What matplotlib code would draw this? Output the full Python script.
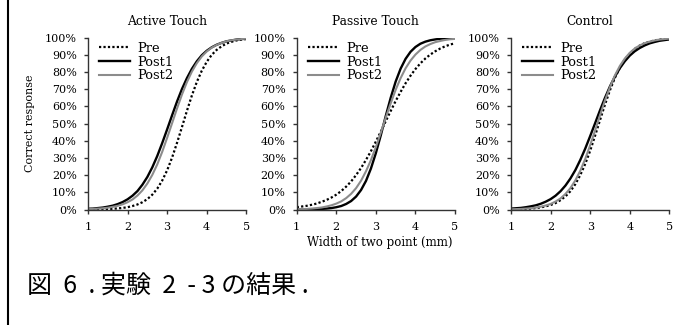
import matplotlib

matplotlib.use("Agg")
import matplotlib.pyplot as plt
from matplotlib.lines import Line2D
from matplotlib.ticker import PercentFormatter

# width of two points (mm), sampled every 0.125 mm
width_mm = [1.0, 1.125, 1.25, 1.375, 1.5, 1.625, 1.75, 1.875, 2.0, 2.125, 2.25, 2.375, 2.5, 2.625, 2.75, 2.875,
            3.0, 3.125, 3.25, 3.375, 3.5, 3.625, 3.75, 3.875, 4.0, 4.125, 4.25, 4.375, 4.5, 4.625, 4.75, 4.875, 5.0]

# correct response rate
active_pre = [0.001, 0.001, 0.001, 0.002, 0.003, 0.005, 0.007, 0.010, 0.014, 0.021, 0.030, 0.043, 0.061, 0.087, 0.122, 0.169,
              0.229, 0.303, 0.389, 0.481, 0.575, 0.664, 0.743, 0.808, 0.860, 0.900, 0.929, 0.950, 0.966, 0.976, 0.984, 0.989, 0.992]
active_post1 = [0.005, 0.006, 0.009, 0.012, 0.017, 0.023, 0.032, 0.044, 0.060, 0.081, 0.108, 0.145, 0.190, 0.246, 0.312, 0.387,
                0.467, 0.549, 0.629, 0.702, 0.765, 0.819, 0.863, 0.898, 0.924, 0.944, 0.959, 0.970, 0.979, 0.984, 0.989, 0.992, 0.994]
active_post2 = [0.003, 0.004, 0.006, 0.008, 0.011, 0.016, 0.022, 0.031, 0.043, 0.059, 0.082, 0.112, 0.152, 0.202, 0.263, 0.336,
                0.418, 0.503, 0.589, 0.670, 0.742, 0.803, 0.852, 0.891, 0.920, 0.942, 0.958, 0.970, 0.979, 0.985, 0.989, 0.992, 0.995]

passive_pre = [0.014, 0.018, 0.022, 0.028, 0.035, 0.045, 0.056, 0.070, 0.087, 0.108, 0.134, 0.164, 0.201, 0.242, 0.289, 0.340,
               0.396, 0.454, 0.515, 0.574, 0.632, 0.685, 0.735, 0.779, 0.818, 0.851, 0.879, 0.902, 0.921, 0.937, 0.950, 0.960, 0.968]
passive_post1 = [0.000, 0.001, 0.001, 0.002, 0.002, 0.004, 0.006, 0.009, 0.014, 0.021, 0.033, 0.050, 0.076, 0.114, 0.167, 0.239,
                 0.329, 0.433, 0.545, 0.651, 0.745, 0.820, 0.877, 0.918, 0.946, 0.965, 0.977, 0.985, 0.990, 0.994, 0.996, 0.997, 0.998]
passive_post2 = [0.002, 0.003, 0.004, 0.006, 0.009, 0.012, 0.018, 0.025, 0.035, 0.048, 0.067, 0.092, 0.125, 0.168, 0.223, 0.288,
                 0.364, 0.448, 0.535, 0.619, 0.697, 0.765, 0.822, 0.867, 0.902, 0.929, 0.949, 0.963, 0.974, 0.981, 0.987, 0.991, 0.993]

control_pre = [0.002, 0.002, 0.003, 0.004, 0.006, 0.009, 0.013, 0.019, 0.027, 0.038, 0.055, 0.077, 0.107, 0.148, 0.201, 0.266,
               0.343, 0.431, 0.522, 0.612, 0.695, 0.767, 0.826, 0.873, 0.908, 0.935, 0.954, 0.968, 0.977, 0.984, 0.989, 0.992, 0.995]
control_post1 = [0.006, 0.008, 0.010, 0.014, 0.019, 0.025, 0.034, 0.046, 0.061, 0.081, 0.107, 0.140, 0.181, 0.230, 0.289, 0.355,
                 0.428, 0.503, 0.579, 0.651, 0.717, 0.774, 0.823, 0.863, 0.896, 0.921, 0.940, 0.955, 0.967, 0.975, 0.982, 0.986, 0.990]
control_post2 = [0.002, 0.003, 0.004, 0.006, 0.008, 0.012, 0.017, 0.024, 0.033, 0.047, 0.065, 0.091, 0.125, 0.170, 0.226, 0.295,
                 0.375, 0.461, 0.550, 0.636, 0.713, 0.781, 0.836, 0.879, 0.912, 0.937, 0.955, 0.968, 0.977, 0.984, 0.989, 0.992, 0.995]

panel_titles = ["Active Touch", "Passive Touch", "Control"]
series_names = ["Pre", "Post1", "Post2"]
x_ticks = [1, 2, 3, 4, 5]
y_ticks = [0, 0.1, 0.2, 0.3, 0.4, 0.5, 0.6, 0.7, 0.8, 0.9, 1.0]

panels = [
    (active_pre, active_post1, active_post2),
    (passive_pre, passive_post1, passive_post2),
    (control_pre, control_post1, control_post2),
]

styles = [
    dict(color="black", linestyle=(0, (1, 1)), linewidth=1.6),
    dict(color="black", linestyle="-", linewidth=1.7),
    dict(color="#8c8c8c", linestyle="-", linewidth=1.5),
]

SERIF = "DejaVu Serif"
FS = 8

fig = plt.figure(figsize=(6.9, 3.25), dpi=100)
lefts = [0.1275, 0.430, 0.7406]
for i, (left, title, curves) in enumerate(zip(lefts, panel_titles, panels)):
    ax = fig.add_axes([left, 0.355, 0.2295, 0.529])
    for vals, name, st in zip(curves, series_names, styles):
        ax.plot(width_mm, vals, label=name, **st)
    ax.set_xlim(1, 5)
    ax.set_ylim(0, 1)
    ax.set_xticks(x_ticks)
    ax.set_yticks(y_ticks)
    ax.yaxis.set_major_formatter(PercentFormatter(1.0, decimals=0))
    for s in ("top", "right"):
        ax.spines[s].set_visible(False)
    for s in ("left", "bottom"):
        ax.spines[s].set_color("#333333")
        ax.spines[s].set_linewidth(1.0)
    ax.tick_params(direction="out", length=3, width=1.0, color="#333333", labelsize=FS)
    ax.tick_params(axis="x", pad=6)
    ax.tick_params(axis="y", pad=5)
    for lab in ax.get_xticklabels() + ax.get_yticklabels():
        lab.set_family(SERIF)
    ax.set_title(title, fontsize=8.8, family=SERIF, pad=9)
    ax.legend(loc="upper left", bbox_to_anchor=(0.02, 1.02), frameon=False,
              prop={"family": SERIF, "size": 9.3}, handlelength=2.4,
              handletextpad=0.6, labelspacing=0.05, borderaxespad=0.2)
    if i == 0:
        ax.set_ylabel("Correct response", fontsize=FS, family=SERIF, labelpad=7)

fig.text(0.551, 0.253, "Width of two point (mm)", ha="center", va="center",
         fontsize=8.5, family=SERIF)
fig.text(0.039, 0.12, "図  6  . 実験  2  - 3 の結果 .", ha="left", va="center",
         fontsize=18, family=["Noto Sans CJK JP", "DejaVu Sans"])
fig.add_artist(Line2D([0.012, 0.012], [0, 1], color="black", linewidth=1.5))

fig.savefig("out.png", dpi=100)
